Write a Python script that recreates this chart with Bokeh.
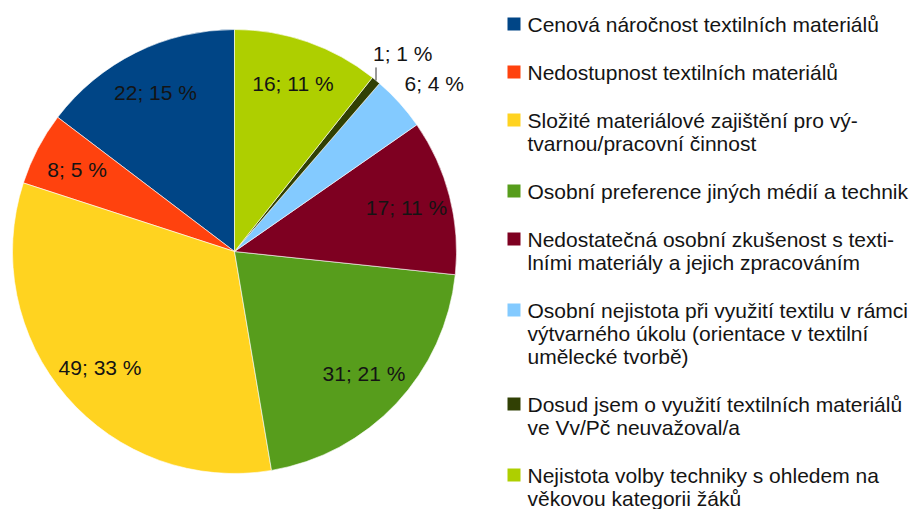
import math
from bokeh.plotting import figure
from bokeh.models import Range1d, ColumnDataSource
from bokeh.core.properties import value
from bokeh.embed import file_html
from bokeh.resources import INLINE

# ---- data ----
categories = [
    "Cenová náročnost textilních materiálů",
    "Nedostupnost textilních materiálů",
    "Složité materiálové zajištění pro vý-\ntvarnou/pracovní činnost",
    "Osobní preference jiných médií a technik",
    "Nedostatečná osobní zkušenost s texti-\nlními materiály a jejich zpracováním",
    "Osobní nejistota při využití textilu v rámci\nvýtvarného úkolu (orientace v textilní\numělecké tvorbě)",
    "Dosud jsem o využití textilních materiálů\nve Vv/Pč neuvažoval/a",
    "Nejistota volby techniky s ohledem na\nvěkovou kategorii žáků",
]
counts = [22, 8, 49, 31, 17, 6, 1, 16]
colors = ["#004586", "#ff420e", "#ffd320", "#579d1c",
          "#7e0021", "#83caff", "#314004", "#aecf00"]

# ---- layout constants (picture pixel space) ----
W, H = 921, 509
FONT = value("Liberation Sans")
TXT = "#141414"

def py(y):  # picture y -> data y
    return H - y

CX, CY, R = 234, py(251), 222

p = figure(width=W, height=H, output_backend="svg", toolbar_location=None,
           x_range=Range1d(0, W), y_range=Range1d(0, H),
           min_border=0, outline_line_color=None, background_fill_color="white",
           border_fill_color="white")
p.axis.visible = False
p.grid.visible = False

total = sum(counts)
starts, ends, mids, labels = [], [], [], []
acc = 0
for c in counts:
    s = math.pi / 2 + 2 * math.pi * acc / total
    e = math.pi / 2 + 2 * math.pi * (acc + c) / total
    starts.append(s); ends.append(e); mids.append((s + e) / 2)
    labels.append(f"{c}; {round(100 * c / total)} %")
    acc += c

src = ColumnDataSource(dict(start=starts, end=ends, color=colors))
p.wedge(x=CX, y=CY, radius=R, start_angle="start", end_angle="end",
        fill_color="color", line_color="white", line_width=0.6, source=src)

# pie labels
ix, iy, it = [], [], []
for c, m, lab in zip(counts, mids, labels):
    frac = c / total
    ex, ey = CX + R * math.cos(m), CY + R * math.sin(m)
    if frac >= 0.05:
        ix.append(CX + 0.8 * R * math.cos(m)); iy.append(CY + 0.8 * R * math.sin(m)); it.append(lab)
    else:
        if frac < 0.02:
            p.segment(x0=[ex], y0=[ey], x1=[ex], y1=[ey + 13], line_color="#333333", line_width=1)
            p.text(x=[ex - 3], y=[ey + 15], text=[lab], text_font=FONT, text_font_size="21px",
                   text_color=TXT, text_align="left", text_baseline="bottom")
        else:
            p.text(x=[ex + 5], y=[ey + 8], text=[lab], text_font=FONT, text_font_size="21px",
                   text_color=TXT, text_align="left", text_baseline="bottom")
p.text(x=ix, y=iy, text=it, text_font=FONT, text_font_size="21px", text_color=TXT,
       text_align="center", text_baseline="middle")

# legend (manual)
LX, LY0, LH, GAP, SQ = 507, 23.5, 23, 25, 13
y = LY0
sqx, sqy, tx, ty, tt = [], [], [], [], []
for cat, col in zip(categories, colors):
    lines = cat.split("\n")
    sqx.append(LX + SQ / 2); sqy.append(py(y))
    for k, ln in enumerate(lines):
        tx.append(LX + 20); ty.append(py(y + k * LH)); tt.append(ln)
    y += len(lines) * LH + GAP
p.rect(x=sqx, y=sqy, width=SQ, height=SQ, fill_color=colors, line_color=None)
p.text(x=tx, y=ty, text=tt, text_font=FONT, text_font_size="21px", text_color=TXT,
       text_align="left", text_baseline="middle")

open("out.html", "w").write(file_html(p, INLINE))
